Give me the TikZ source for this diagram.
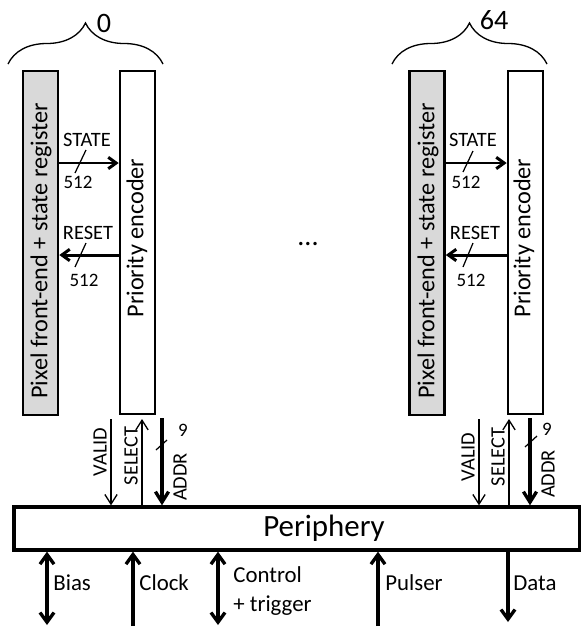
\documentclass[tikz,border=0pt]{standalone}
\usepackage{fontspec}
\setmainfont{Carlito}
\usetikzlibrary{arrows.meta,decorations.pathreplacing}
\tikzset{
	pixbox/.style={draw, fill=black!15, line width=1.5pt, minimum width=0.7cm, minimum height=6.88cm, inner sep=0pt},
	encbox/.style={draw, fill=white, line width=1.5pt, minimum width=0.7cm, minimum height=6.86cm, inner sep=0pt},
	boxtext/.style={rotate=90, font=\fontsize{13.8}{15}\selectfont, inner sep=0pt},
	sig/.style={font=\fontsize{11.6}{13}\selectfont, inner sep=0pt},
	width/.style={font=\fontsize{10.8}{12}\selectfont, inner sep=0pt},
	bus/.style={line width=1.7pt, -{Straight Barb[length=4.5pt,width=6.5pt]}},
	addrbus/.style={line width=1.9pt, -{Straight Barb[length=6pt,width=7.5pt]}},
	wire/.style={line width=0.75pt, -{Straight Barb[length=5.5pt,width=7pt]}},
	slash/.style={line width=0.7pt},
	ioboth/.style={line width=1.9pt, {Straight Barb[length=5.5pt,width=8pt]}-{Straight Barb[length=5.5pt,width=8pt]}},
	ioone/.style={line width=1.9pt, -{Straight Barb[length=5.5pt,width=8pt]}},
	iolabel/.style={font=\fontsize{13}{16}\selectfont, anchor=west, inner sep=0pt, align=left},
	groupbrace/.style={decorate, decoration={brace, amplitude=0.82cm}, line width=0.75pt},
	grouplabel/.style={font=\fontsize{16}{18}\selectfont, inner sep=0pt}
}

\begin{document}
\begin{tikzpicture}[x=0.02cm, y=-0.02cm]
		%%%%% START %%%%%
		\useasboundingbox (0,0) rectangle (581,633);
		
		\node[draw, line width=1.9pt, minimum width=11.32cm, minimum height=0.86cm] (peri) at (297,528.5) {};
		\node[font=\fontsize{17.6}{20}\selectfont, inner sep=0pt] (peritxt) at (324,528) {Periphery};
		
		\coordinate (rowS) at (0,163);
		\coordinate (rowR) at (0,255);
		
		% column 0
		\draw[groupbrace] (8,64) -- (163,64);
		\node[grouplabel] (grp0) at (104,23) {0};
		
		\node[pixbox] (pix0) at (40.5,243) {};
		\node[boxtext] (pixtxt0) at (41,251) {Pixel front-end + state register};
		\node[encbox] (enc0) at (137.5,242.5) {};
		\node[boxtext] (enctxt0) at (137,238) {Priority encoder};
		
		\draw[bus] (pix0.east |- rowS) -- (enc0.west |- rowS);
		\node[sig] (st0) at (87,140) {STATE};
		\node[width] (stw0) at (78,182) {512};
		\draw[slash] (86,150) -- (75,173);
		
		\draw[bus] (enc0.west |- rowR) -- (pix0.east |- rowR);
		\node[sig] (rs0) at (88,233) {RESET};
		\node[width] (rsw0) at (84,280) {512};
		\draw[slash] (86,243) -- (75,267);
		
		\coordinate (valid0) at (111,419);
		\coordinate (select0) at (142,419);
		\coordinate (addr0) at (162,418);
		\draw[wire] (valid0) -- (valid0 |- peri.north);
		\draw[wire] (select0 |- peri.north) -- (select0);
		\draw[addrbus] (addr0) -- (addr0 |- peri.north);
		\draw[slash] (167,440) -- (156,450);
		\node[sig, rotate=90] (vl0) at (100,452) {VALID};
		\node[sig, rotate=90] (sl0) at (131,456) {SELECT};
		\node[sig, rotate=90] (ad0) at (180,477) {ADDR};
		\node[width] (adw0) at (183,430) {9};
		
		\node[font=\fontsize{16}{18}\selectfont, inner sep=0pt] (dots) at (308,244) {...};
		
		% column 64
		\draw[groupbrace] (392,64) -- (547,64);
		\node[grouplabel] (grp1) at (494,20) {64};
		
		\node[pixbox] (pix1) at (427,243) {};
		\node[boxtext] (pixtxt1) at (428,251) {Pixel front-end + state register};
		\node[encbox] (enc1) at (525.5,242.5) {};
		\node[boxtext] (enctxt1) at (524,238) {Priority encoder};
		
		\draw[bus] (pix1.east |- rowS) -- (enc1.west |- rowS);
		\node[sig] (st1) at (473,140) {STATE};
		\node[width] (stw1) at (466,182) {512};
		\draw[slash] (473,151) -- (463,172);
		
		\draw[bus] (enc1.west |- rowR) -- (pix1.east |- rowR);
		\node[sig] (rs1) at (475,233) {RESET};
		\node[width] (rsw1) at (471,280) {512};
		\draw[slash] (473,243) -- (463,267);
		
		\coordinate (valid1) at (479,419);
		\coordinate (select1) at (509,419);
		\coordinate (addr1) at (530,418);
		\draw[wire] (valid1) -- (valid1 |- peri.north);
		\draw[wire] (select1 |- peri.north) -- (select1);
		\draw[addrbus] (addr1) -- (addr1 |- peri.north);
		\draw[slash] (537,436) -- (525,447);
		\node[sig, rotate=90] (vl1) at (468,457) {VALID};
		\node[sig, rotate=90] (sl1) at (498,457) {SELECT};
		\node[sig, rotate=90] (ad1) at (548,474) {ADDR};
		\node[width] (adw1) at (547,429) {9};
		
		% inputs and outputs of the periphery
		\coordinate (bias) at (47,625);
		\coordinate (clock) at (133,626);
		\coordinate (ctrl) at (218,625);
		\coordinate (pulser) at (378,626);
		\coordinate (data) at (508,622);
		
		\draw[ioboth] (bias |- peri.south) -- (bias);
		\draw[ioone] (clock) -- (clock |- peri.south);
		\draw[ioboth] (ctrl |- peri.south) -- (ctrl);
		\draw[ioone] (pulser) -- (pulser |- peri.south);
		\draw[ioone] (data |- peri.south) -- (data);
		
		\node[iolabel] (biastxt) at (53,583) {Bias};
		\node[iolabel] (clocktxt) at (139,583) {Clock};
		\node[iolabel] (ctrltxt) at (233,591) {Control\\+ trigger};
		\node[iolabel] (pulsertxt) at (385,583) {Pulser};
		\node[iolabel] (datatxt) at (513,583) {Data};
		
		%%%%% END %%%%%
\end{tikzpicture}
\end{document}
